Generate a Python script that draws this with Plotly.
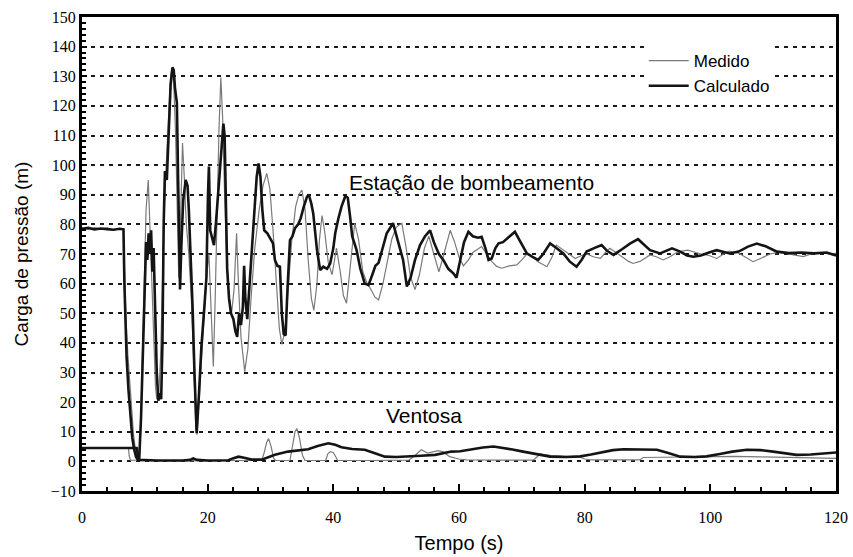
import plotly.graph_objects as go

# ---- Estação de bombeamento: calculado (time s, pressure head m)
est_calc_t = [0, 1, 2, 3, 4, 5, 6, 6.6, 6.75, 6.9, 7.1, 7.4, 7.7, 8.0, 8.3, 8.6, 8.9, 9.1, 9.4, 9.7,
              10.0, 10.2, 10.4, 10.6, 10.8, 11.0, 11.2, 11.4, 11.6, 11.9, 12.15, 12.4, 12.6, 12.8, 13.0,
              13.2, 13.5, 13.8, 14.1, 14.4, 14.6, 14.8, 15.1, 15.3, 15.5, 15.6, 15.8, 16.1, 16.5, 16.8,
              17.0, 17.3, 17.6, 17.9, 18.25, 18.6, 19.0, 19.4, 19.8, 20.05, 20.2, 20.4, 20.7, 21.0, 21.3,
              21.7, 22.1, 22.5, 22.7, 22.9, 23.1, 23.4, 23.7, 24.1, 24.4, 24.7, 25.0, 25.3, 25.6, 25.8,
              26.0, 26.3, 26.6, 27.0, 27.4, 27.8, 28.1, 28.4, 28.7, 29.0, 29.5, 30.0, 30.4, 30.7, 31.1,
              31.5, 31.8, 32.1, 32.4, 32.7, 33.1, 33.5, 33.9, 34.4, 34.8, 35.3, 35.8, 36.1, 36.5, 36.8,
              37.1, 37.4, 37.9, 38.4, 39.0, 39.5, 40.0, 40.3, 40.8, 41.3, 41.9, 42.3, 42.7, 43.0, 43.7,
              44.3, 45.0, 45.6, 46.2, 46.7, 47.2, 47.8, 48.5, 49.5, 50.2, 51.1, 51.7, 52.3, 53.0, 53.8,
              54.6, 55.4, 56.0, 56.8, 57.5, 58.3, 59.1, 59.6, 60.2, 60.8, 61.5, 62.2, 63.0, 63.6, 64.2,
              64.7, 65.2, 65.8, 66.3, 67.0, 67.8, 68.9, 69.8, 70.8, 71.7, 72.6, 73.4, 74.5, 75.5, 76.6,
              77.6, 78.7, 79.5, 80.3, 81.5, 82.7, 83.6, 84.6, 86.0, 87.2, 88.5, 89.5, 90.4, 92.0, 93.9,
              95.2, 96.3, 97.3, 98.5, 99.8, 101.0, 103.1, 104.5, 106.0, 107.4, 108.8, 110.6, 112.5, 114.5,
              116.5, 118.5, 120]
est_calc_v = [78.5, 78.8, 78.3, 78.6, 78.4, 78.2, 78.5, 78.3, 60, 45, 35, 24, 15, 8, 4, 1.5, 0.5, 0.5, 15, 40,
              65, 74, 68, 77, 70, 78, 64, 72, 55, 30, 20.5, 23, 21, 40, 80,
              98, 95, 112, 127, 133, 132, 126, 121, 95, 65, 58, 72, 88, 95, 93,
              85, 70, 52, 30, 9.5, 22, 38.7, 50, 62, 90, 99.5, 78, 75, 73, 80,
              92, 105, 114, 110, 80, 65, 55, 50, 48, 44, 42, 50, 46, 52, 66,
              55, 48, 58, 72, 85, 96, 100.6, 96, 85, 78, 77, 75, 73.6, 68, 66,
              65.7, 50, 43, 42.5, 58, 74.7, 76, 78.7, 80, 82, 86, 89.3, 90, 87, 83.7,
              77, 71.3, 64.6, 65.7, 65, 66.8, 72, 77, 82, 86, 89.5, 89, 82, 76, 71.3,
              65, 60, 59.5, 63, 66, 67, 72, 77, 80.4, 75, 68, 59, 62, 68, 73,
              76, 78, 74, 70, 68, 65, 63.5, 62, 68, 74, 77.5, 76, 75.5, 75.8, 72,
              68, 68.5, 72, 73.6, 74, 75.5, 77.5, 74, 70.2, 69, 68, 70, 73.6, 72, 70.2,
              67.5, 65.7, 68, 70.8, 72, 73, 71, 69.7, 71.7, 73.5, 75, 73, 71.3, 70.2, 71.9,
              70.8, 69.5, 69.1, 69.5, 70.5, 71.3, 70.2, 70.8, 72.5, 73.5, 72.6, 70.8, 70.3, 70.5,
              70.2, 70.5, 69.5]

# ---- Estação de bombeamento: medido
est_med_t = [0, 1, 2, 3, 4, 5, 6, 6.6, 6.8, 7.0, 7.3, 7.6, 7.9, 8.2, 8.5, 8.8, 9.1, 9.3, 9.6, 9.9,
             10.2, 10.55, 10.8, 11.1, 11.4, 11.7, 11.9, 12.2, 12.5, 12.8, 13.1, 13.4, 13.8, 14.1, 14.3,
             14.6, 14.9, 15.2, 15.4, 15.6, 15.8, 16.0, 16.3, 16.6, 17.0, 17.4, 17.8, 18.1, 18.3, 18.6,
             19.0, 19.4, 19.8, 20.2, 20.5, 20.9, 21.2, 21.5, 21.8, 22.1, 22.4, 22.7, 23.0, 23.4, 23.8,
             24.2, 24.6, 24.9, 25.3, 25.9, 26.4, 26.9, 27.5, 28.2, 28.8, 29.4, 29.9, 30.4, 30.9, 31.4,
             31.8, 32.3, 32.8, 33.4, 34.0, 34.5, 35.0, 35.5, 36.0, 36.5, 36.9, 37.4, 37.8, 38.2, 38.6,
             39.2, 39.8, 40.5, 41.1, 41.6, 42.1, 42.7, 43.4, 44.0, 44.7, 45.4, 46.0, 46.6, 47.2, 47.9,
             48.6, 49.3, 50.0, 50.9, 51.6, 52.3, 53.0, 53.7, 54.5, 55.2, 56.0, 56.8, 57.6, 58.6, 59.3,
             60.0, 60.7, 61.5, 62.2, 62.8, 63.6, 64.4, 65.2, 66.0, 66.8, 68.0, 69.2, 70.0, 70.8, 71.5,
             72.5, 74.0, 74.8, 75.5, 76.5, 77.5, 78.5, 79.5, 80.3, 81.5, 82.5, 83.3, 84.0, 85.0, 86.0,
             87.0, 87.7, 88.8, 90.4, 91.5, 92.5, 93.5, 94.5, 95.5, 96.4, 97.5, 98.5, 99.8, 101.0, 102.0,
             103.0, 104.5, 105.5, 106.8, 108.0, 109.5, 111.0, 112.5, 113.8, 114.8, 116.0, 117.5, 119.0, 120]
est_med_v = [78.8, 78.4, 78.9, 78.3, 78.8, 78.1, 78.6, 78.5, 62, 48, 36, 26, 17, 9, 4, 1.2, 0.5, 8, 35, 62,
             85, 95, 80, 58, 38, 25, 21, 22, 35, 60, 85, 100, 118, 130, 132.5,
             128, 110, 80, 62, 75, 95, 107.5, 95, 80, 70, 55, 32, 12, 9, 20,
             36, 48, 62, 70, 55, 32, 55, 85, 112, 129.6, 115, 90, 70, 56, 50,
             58, 77, 60, 42, 30.3, 38, 55, 72, 85, 93, 97.2, 92, 78, 60, 45,
             39.5, 44, 58, 75, 86, 90, 91.6, 85, 68, 55, 51, 60, 75, 83, 78,
             67, 63, 72, 64, 56, 53.4, 65, 80.4, 75, 64, 60, 58, 55.5, 54.5, 60,
             68, 75, 79, 80.4, 72, 62, 58, 63, 72, 76, 70, 64, 70, 78, 74,
             69, 66, 68, 70.5, 71.3, 72.5, 70, 67.5, 65.8, 65.2, 66, 66.3, 68, 70, 69.5,
             67.5, 65.7, 69, 73, 71.5, 70, 68.5, 69.5, 70, 69, 68.5, 70.5, 71.9, 70.5, 69,
             67.5, 66.8, 67.5, 69.7, 69, 68, 69, 70.3, 71, 71.3, 70.5, 70, 69.5, 68.5, 69.8,
             71, 70.3, 69, 67.4, 68.5, 70, 70.6, 70, 69.5, 69.1, 70, 70.4, 70, 70.2]

# ---- Ventosa: calculado
ven_calc_t = [0, 8.7, 9.0, 12, 16, 17.2, 17.7, 18.3, 20, 23.3, 24.0, 24.9, 25.8, 27, 28.6, 29.5, 30.7,
              32.8, 34.5, 36, 37.5, 39.2, 40.3, 41.3, 43, 45, 46.5, 48.2, 50, 52, 54, 56.2, 58.8, 60.2,
              62, 63.8, 65.5, 67, 68.5, 70.2, 72.3, 74.5, 77, 79.3, 81, 83, 84.5, 86.2, 88.8, 91.5, 93.3,
              95.2, 97.5, 99.4, 101.5, 103.5, 105.8, 108, 110, 111.8, 113.7, 116, 118, 120]
ven_calc_v = [4.5, 4.5, 0.5, 0.3, 0.3, 0.5, 1.0, 0.5, 0.3, 0.4, 1.0, 1.6, 1.2, 0.6, 0.6, 1.2, 2.2,
              3.3, 3.8, 4.1, 5.2, 6.1, 5.6, 4.8, 4.2, 3.9, 2.8, 1.6, 1.5, 1.6, 1.9, 2.2, 3.3, 3.4,
              4.0, 4.7, 5.0, 4.6, 4.0, 3.3, 2.4, 1.6, 1.5, 1.7, 2.3, 3.2, 3.8, 4.1, 4.1, 3.9, 2.8,
              1.6, 1.5, 1.7, 2.5, 3.3, 3.9, 3.8, 3.3, 2.7, 2.2, 2.3, 2.7, 3.0]

# ---- Ventosa: medido
ven_med_t = [0, 7.4, 7.5, 7.7, 15, 28.6, 29.0, 29.4, 29.7, 30.1, 30.5, 30.8, 33.1, 33.5, 33.9, 34.2,
             34.6, 35.1, 35.5, 38.8, 39.1, 39.5, 40.0, 40.4, 40.7, 46, 52, 53, 54, 55.0, 55.8, 56.7,
             57.5, 58.5, 60, 61.2, 66, 71.8, 72.4, 72.9, 74.5, 77, 79.3, 80, 81, 85, 88.8, 89.3, 92,
             95, 99.4, 104, 108, 112, 116, 120]
ven_med_v = [4.5, 4.5, 2, 0.4, 0.2, 0.3, 3, 6.5, 7.7, 5, 1, 0.3, 0.3, 5, 10, 11.1,
             8, 2, 0.3, 0.3, 2.5, 3.3, 3.0, 1.5, 0.3, 0.3, 0.4, 2, 3.9, 2.8, 3.2, 3.6,
             3.2, 1.6, 0.8, 0.5, 0.4, 0.4, 1.5, 2.5, 2.0, 1.7, 1.4, 0.8, 0.5, 0.5, 0.5, 1.3, 1.4,
             1.6, 1.6, 1.7, 1.5, 1.4, 1.2, 1.0]

x_ticks = [0, 20, 40, 60, 80, 100, 120]
y_ticks = list(range(-10, 151, 10))

thin = dict(color="#7a7a7a", width=1.2)
thick = dict(color="#141414", width=2.6)

fig = go.Figure()
fig.add_trace(go.Scatter(x=est_med_t, y=est_med_v, mode="lines", line=thin,
                         name="Medido", legendgroup="m"))
fig.add_trace(go.Scatter(x=ven_med_t, y=ven_med_v, mode="lines", line=thin,
                         name="Medido", legendgroup="m", showlegend=False))
fig.add_trace(go.Scatter(x=est_calc_t, y=est_calc_v, mode="lines", line=thick,
                         name="Calculado", legendgroup="c"))
fig.add_trace(go.Scatter(x=ven_calc_t, y=ven_calc_v, mode="lines", line=thick,
                         name="Calculado", legendgroup="c", showlegend=False))

fig.add_annotation(x=42.1, y=94, text="Estação de bombeamento", showarrow=False,
                   xanchor="left", yanchor="middle",
                   font=dict(family="Liberation Sans, Arial", size=21, color="black"))
fig.add_annotation(x=48.0, y=15.5, text="Ventosa", showarrow=False,
                   xanchor="left", yanchor="middle",
                   font=dict(family="Liberation Sans, Arial", size=21, color="black"))

fig.update_layout(
    width=853, height=557,
    margin=dict(l=82, r=17, t=17, b=66, autoexpand=False),
    plot_bgcolor="white", paper_bgcolor="white",
    legend=dict(x=0.745, y=0.945, xanchor="left", yanchor="top",
                bgcolor="white", borderwidth=0,
                font=dict(family="Liberation Sans, Arial", size=17, color="black"),
                tracegroupgap=0, itemwidth=40),
    xaxis=dict(range=[0, 120], tickvals=x_ticks, showline=True, linewidth=3, linecolor="black",
               mirror=True, ticks="inside", ticklen=7, tickwidth=2, tickcolor="black",
               showgrid=False, zeroline=False, automargin=False, ticklabelstandoff=10,
               tickfont=dict(family="Liberation Serif, Times New Roman", size=16, color="black"),
               minor=dict(dtick=4, tick0=0, ticks="inside", ticklen=4, tickwidth=1.5,
                          tickcolor="black", showgrid=False),
               title=dict(text="Tempo (s)", standoff=11,
                          font=dict(family="Liberation Sans, Arial", size=20, color="black"))),
    yaxis=dict(range=[-10, 150], tickvals=y_ticks, showline=True, linewidth=3, linecolor="black",
               mirror=True, ticks="inside", ticklen=5, tickwidth=2, tickcolor="black",
               showgrid=True, gridcolor="#1a1a1a", gridwidth=2, griddash="4px,5px",
               zeroline=False, automargin=False,
               tickfont=dict(family="Liberation Serif, Times New Roman", size=16, color="black"),
               minor=dict(dtick=2, tick0=0, ticks="inside", ticklen=4, tickwidth=1.5,
                          tickcolor="black", showgrid=False),
               title=dict(text="Carga de pressão (m)", standoff=18,
                          font=dict(family="Liberation Sans, Arial", size=19, color="black"))),
)

# remove the browser's default page margin so the figure fills the window exactly
fig.write_html("out.html", config={"displayModeBar": False},
               post_script="document.body.style.margin='0';document.body.style.overflow='hidden';")
